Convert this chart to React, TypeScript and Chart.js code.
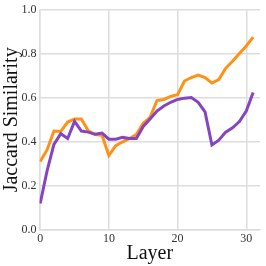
import React, { useEffect, useRef } from "react";
import { Chart, registerables } from "chart.js";

Chart.register(...registerables);

const layers: number[] = Array.from({ length: 32 }, (_, i) => i);
const orangeValues: number[] = [0.31, 0.363, 0.449, 0.447, 0.49, 0.504, 0.504, 0.45, 0.433, 0.43, 0.338, 0.382, 0.4, 0.415, 0.433, 0.485, 0.511, 0.588, 0.593, 0.607, 0.615, 0.677, 0.693, 0.704, 0.693, 0.668, 0.684, 0.735, 0.767, 0.803, 0.837, 0.877];
const purpleValues: number[] = [0.119, 0.267, 0.388, 0.437, 0.415, 0.493, 0.449, 0.444, 0.434, 0.44, 0.412, 0.412, 0.42, 0.415, 0.415, 0.47, 0.504, 0.54, 0.563, 0.58, 0.593, 0.599, 0.602, 0.58, 0.536, 0.385, 0.407, 0.444, 0.464, 0.492, 0.54, 0.625];
const xTicks: number[] = [0, 10, 20, 30];
const yTicks: number[] = [0, 0.2, 0.4, 0.6, 0.8, 1.0];

const FONT = "'Liberation Serif', 'DejaVu Serif', serif";

export default function App() {
  const ref = useRef<HTMLCanvasElement | null>(null);
  useEffect(() => {
    if (!ref.current) return;
    const chart = new Chart(ref.current, {
      type: "line",
      data: {
        datasets: [
          {
            label: "purple",
            data: layers.map((x, i) => ({ x, y: purpleValues[i] })),
            borderColor: "#8545c2",
            borderWidth: 3,
            pointRadius: 0,
            tension: 0,
            fill: false,
          },
          {
            label: "orange",
            data: layers.map((x, i) => ({ x, y: orangeValues[i] })),
            borderColor: "#ff9214",
            borderWidth: 3,
            pointRadius: 0,
            tension: 0,
            fill: false,
          },
        ],
      },
      options: {
        animation: false,
        responsive: false,
        layout: { padding: { top: 5, right: 6, left: 0, bottom: 0 } },
        plugins: { legend: { display: false }, tooltip: { enabled: false } },
        scales: {
          x: {
            type: "linear",
            min: -0.1,
            max: 32,
            afterBuildTicks: (s: any) => {
              s.ticks = xTicks.map((v) => ({ value: v }));
            },
            afterFit: (s: any) => {
              s.height = 36.5;
            },
            grid: { color: "#dddddd", lineWidth: 1.5, drawTicks: false },
            border: { color: "#dddddd", width: 1.5 },
            ticks: {
              color: "#333333",
              font: { family: FONT, size: 12 },
              padding: 2,
              maxRotation: 0,
            },
            title: {
              display: true,
              text: "Layer",
              color: "#111111",
              font: { family: FONT, size: 20 },
              padding: { top: 0, bottom: 0 },
            },
          },
          y: {
            type: "linear",
            min: 0,
            max: 1.0,
            afterBuildTicks: (s: any) => {
              s.ticks = yTicks.map((v) => ({ value: v }));
            },
            afterFit: (s: any) => {
              s.width = 39.5;
            },
            grid: { color: "#dddddd", lineWidth: 1.5, drawTicks: false },
            border: { color: "#dddddd", width: 1.5 },
            ticks: {
              color: "#333333",
              font: { family: FONT, size: 12 },
              padding: 3,
              callback: (v: any) => Number(v).toFixed(1),
            },
            title: {
              display: true,
              text: "Jaccard Similarity",
              color: "#111111",
              font: { family: FONT, size: 20 },
              padding: { top: 0, bottom: 0 },
            },
          },
        },
      },
    });
    return () => chart.destroy();
  }, []);
  return (
    <div style={{ position: "fixed", left: 0, top: 0, width: 266, height: 266, background: "#fff" }}>
      <canvas ref={ref} width={266} height={266} style={{ width: 266, height: 266 }} />
    </div>
  );
}
